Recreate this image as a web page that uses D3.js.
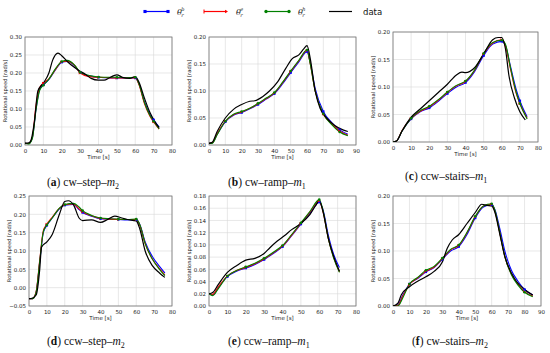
<!DOCTYPE html>
<html><head><meta charset="utf-8">
<script src="https://cdn.jsdelivr.net/npm/d3@7"></script>
<style>body{margin:0;background:#fff}svg{display:block}</style>
</head><body>
<svg id="chart" width="550" height="353"></svg>
<script>
// ---------- DATA ----------
const seriesNames = ["θ_r^b", "θ_r^e", "θ_r^h", "data"];
const captions = [["a","cw–step–","2"],["b","cw–ramp–","1"],["c","ccw–stairs–","1"],
                  ["d","ccw–step–","2"],["e","ccw–ramp–","1"],["f","cw–stairs–","2"]];

// (a) cw-step-m2
const a_simT  = [0,2,4,6,8,10,13,17,20,23,27,30,35,40,45,50,55,60,62,65,68,70,73];
const a_blue  = [0.005,0.004,0.02,0.1,0.155,0.167,0.182,0.212,0.23,0.232,0.22,0.201,0.192,0.188,0.187,0.186,0.186,0.186,0.17,0.12,0.085,0.07,0.05];
const a_red   = [0.005,0.004,0.022,0.11,0.16,0.172,0.184,0.213,0.231,0.233,0.221,0.2,0.19,0.188,0.187,0.186,0.186,0.187,0.168,0.115,0.08,0.064,0.044];
const a_green = [0.005,0.003,0.018,0.098,0.152,0.166,0.183,0.215,0.232,0.235,0.222,0.202,0.193,0.189,0.188,0.188,0.187,0.188,0.17,0.118,0.082,0.066,0.045];
const a_dataT = [0,2,3,5,7,10,13,15,17,18,20,23,27,30,33,36,40,43,46,48,50,53,57,60,62,65,68,71,73];
const a_black = [0.005,0.006,0.01,0.06,0.15,0.172,0.2,0.235,0.253,0.255,0.248,0.232,0.215,0.205,0.196,0.185,0.18,0.18,0.187,0.192,0.195,0.188,0.185,0.19,0.175,0.13,0.09,0.062,0.048];

// (b) cw-ramp-m1
const b_simT  = [0,2,5,10,15,20,25,30,35,40,45,50,55,60,62,65,70,75,80,85];
const b_blue  = [0.003,0.004,0.02,0.043,0.055,0.06,0.067,0.075,0.085,0.095,0.113,0.134,0.154,0.173,0.152,0.105,0.062,0.042,0.028,0.02];
const b_red   = [0.003,0.004,0.021,0.044,0.056,0.061,0.068,0.076,0.086,0.096,0.115,0.136,0.156,0.175,0.15,0.1,0.057,0.04,0.026,0.018];
const b_green = [0.003,0.003,0.019,0.044,0.057,0.062,0.068,0.077,0.087,0.097,0.116,0.137,0.157,0.176,0.15,0.1,0.058,0.038,0.024,0.017];
const b_dataT = [0,2,5,10,15,20,25,28,33,37,42,47,51,55,58,60,62,65,68,72,77,82,85];
const b_black = [0.003,0.005,0.025,0.05,0.066,0.075,0.081,0.082,0.09,0.1,0.117,0.142,0.16,0.167,0.178,0.184,0.16,0.1,0.068,0.05,0.036,0.028,0.025];

// (c) ccw-stairs-m1
const c_simT  = [0,2,5,10,15,20,25,30,35,40,45,50,55,60,62,65,68,70,74];
const c_blue  = [0,0.002,0.02,0.042,0.055,0.062,0.074,0.088,0.1,0.108,0.128,0.157,0.178,0.183,0.176,0.135,0.095,0.075,0.046];
const c_red   = [0,0.002,0.021,0.043,0.056,0.064,0.076,0.09,0.102,0.11,0.13,0.16,0.18,0.186,0.175,0.13,0.088,0.07,0.043];
const c_green = [0,0.002,0.02,0.043,0.057,0.065,0.077,0.091,0.103,0.111,0.131,0.161,0.181,0.185,0.178,0.132,0.09,0.07,0.042];
const c_dataT = [0,2,5,10,15,20,25,30,35,38,40,45,50,55,58,60,62,64,67,70,73];
const c_black = [0,0.002,0.02,0.045,0.06,0.075,0.09,0.105,0.122,0.127,0.126,0.135,0.16,0.186,0.19,0.19,0.17,0.12,0.08,0.055,0.04];

// (d) ccw-step-m2
const d_simT  = [0,2,4,6,8,10,13,17,20,25,28,30,35,40,45,50,55,60,62,65,69,73,76];
const d_blue  = [-0.03,-0.03,-0.012,0.07,0.15,0.17,0.19,0.215,0.225,0.227,0.213,0.205,0.195,0.188,0.187,0.186,0.185,0.185,0.172,0.125,0.085,0.058,0.04];
const d_red   = [-0.03,-0.03,-0.01,0.075,0.155,0.173,0.192,0.216,0.226,0.228,0.215,0.207,0.196,0.189,0.187,0.186,0.186,0.186,0.17,0.12,0.078,0.052,0.035];
const d_green = [-0.03,-0.03,-0.012,0.072,0.152,0.171,0.19,0.217,0.227,0.23,0.22,0.21,0.197,0.19,0.188,0.187,0.186,0.187,0.172,0.12,0.078,0.05,0.033];
const d_dataT = [0,2,4,6,7,10,13,17,20,22,25,28,30,35,40,44,48,52,55,60,62,65,69,73,76];
const d_black = [-0.03,-0.028,-0.02,0.05,0.11,0.125,0.145,0.2,0.235,0.237,0.225,0.19,0.183,0.185,0.178,0.186,0.195,0.19,0.186,0.182,0.16,0.1,0.06,0.04,0.028];

// (e) ccw-ramp-m1
const e_simT  = [0,2,5,10,15,20,25,30,35,40,45,50,55,60,62,65,68,71];
const e_blue  = [0.02,0.018,0.03,0.048,0.057,0.062,0.068,0.076,0.086,0.097,0.115,0.134,0.152,0.17,0.158,0.115,0.083,0.063];
const e_red   = [0.02,0.019,0.031,0.049,0.058,0.063,0.069,0.077,0.087,0.098,0.116,0.135,0.154,0.172,0.155,0.11,0.078,0.056];
const e_green = [0.02,0.017,0.028,0.049,0.058,0.064,0.07,0.078,0.088,0.099,0.117,0.136,0.155,0.174,0.157,0.11,0.077,0.055];
const e_dataT = [0,2,5,10,15,20,25,30,33,37,41,45,50,55,58,60,62,65,68,71];
const e_black = [0.02,0.022,0.035,0.055,0.066,0.075,0.078,0.086,0.095,0.106,0.115,0.125,0.135,0.15,0.164,0.172,0.155,0.11,0.08,0.057];

// (f) cw-stairs-m2
const f_simT  = [0,3,6,10,15,20,25,30,35,40,45,50,55,60,62,65,68,72,76,80,85];
const f_blue  = [0,0.002,0.02,0.04,0.05,0.062,0.07,0.085,0.1,0.108,0.13,0.16,0.18,0.184,0.175,0.14,0.1,0.065,0.045,0.03,0.02];
const f_red   = [0,0.001,0.018,0.039,0.051,0.063,0.071,0.086,0.102,0.11,0.133,0.162,0.182,0.185,0.172,0.132,0.09,0.058,0.04,0.026,0.018];
const f_green = [0,0.0,0.015,0.04,0.052,0.065,0.072,0.087,0.103,0.111,0.134,0.163,0.182,0.186,0.174,0.133,0.09,0.057,0.038,0.025,0.017];
const f_dataT = [0,3,5,10,15,20,25,30,33,36,40,45,50,54,57,60,62,65,68,72,75,80,85];
const f_black = [0,0.005,0.02,0.035,0.045,0.053,0.063,0.08,0.105,0.12,0.13,0.15,0.17,0.185,0.183,0.182,0.17,0.13,0.09,0.06,0.045,0.03,0.02];

// axis domains
const xMax  = [80, 90, 80, 80, 80, 90];
const yMin  = [0, 0, 0, -0.05, 0, 0];
const yMax  = [0.30, 0.20, 0.20, 0.25, 0.18, 0.20];
const yStep = [0.05, 0.05, 0.05, 0.05, 0.02, 0.05];

// ---------- LAYOUT ----------
const svg = d3.select("#chart");
const boxes = [
  {x0:25, x1:172, y0:37, y1:145, cap:[47,186]},
  {x0:209, x1:356, y0:37, y1:145, cap:[228,186]},
  {x0:393, x1:538, y0:32, y1:142, cap:[405,180]},
  {x0:29, x1:172, y0:196, y1:306, cap:[47,345]},
  {x0:209, x1:356, y0:196, y1:306, cap:[228,345]},
  {x0:393, x1:541, y0:196, y1:306, cap:[412,345]}
];
const panels = [
  [a_simT,a_blue,a_red,a_green,a_dataT,a_black],
  [b_simT,b_blue,b_red,b_green,b_dataT,b_black],
  [c_simT,c_blue,c_red,c_green,c_dataT,c_black],
  [d_simT,d_blue,d_red,d_green,d_dataT,d_black],
  [e_simT,e_blue,e_red,e_green,e_dataT,e_black],
  [f_simT,f_blue,f_red,f_green,f_dataT,f_black]
];
const COL = {b:"#0000ff", e:"#ff0000", h:"#008000", d:"#000000"};
const tickFont = "DejaVu Sans";

function marker(g, type, x, y, color, s){
  s = s || 1;
  if(type==="b") g.append("rect").attr("x",x-1.2*s).attr("y",y-1.2*s).attr("width",2.4*s).attr("height",2.4*s).attr("fill",color);
  else if(type==="h") g.append("circle").attr("cx",x).attr("cy",y).attr("r",1.3*s).attr("fill",color);
  else g.append("path").attr("d",`M${x-1.4*s},${y-1.4*s}L${x+1.4*s},${y}L${x-1.4*s},${y+1.4*s}Z`).attr("fill",color);
}

panels.forEach((p, i) => {
  const bx = boxes[i];
  const [simT, blue, red, green, dataT, black] = p;
  const x = d3.scaleLinear().domain([0, xMax[i]]).range([bx.x0, bx.x1]);
  const y = d3.scaleLinear().domain([yMin[i], yMax[i]]).range([bx.y1, bx.y0]);
  const g = svg.append("g");
  const xt = d3.range(0, xMax[i] + 0.001, 10);
  const yt = d3.range(yMin[i], yMax[i] + 1e-9, yStep[i]);
  // grid
  g.append("g").selectAll("line").data(xt).join("line")
    .attr("x1", d => x(d)).attr("x2", d => x(d)).attr("y1", bx.y0).attr("y2", bx.y1)
    .attr("stroke", "#d8d8d8").attr("stroke-width", 0.6);
  g.append("g").selectAll("line").data(yt).join("line")
    .attr("y1", d => y(d)).attr("y2", d => y(d)).attr("x1", bx.x0).attr("x2", bx.x1)
    .attr("stroke", "#d8d8d8").attr("stroke-width", 0.6);
  // axes
  const xa = g.append("g").attr("transform", `translate(0,${bx.y1})`)
    .call(d3.axisBottom(x).tickValues(xt).tickFormat(d3.format("d")).tickSize(0).tickPadding(4));
  const ya = g.append("g").attr("transform", `translate(${bx.x0},0)`)
    .call(d3.axisLeft(y).tickValues(yt).tickFormat(d3.format(".2f")).tickSize(0).tickPadding(3));
  [xa, ya].forEach(a => {
    a.select(".domain").remove();
    a.selectAll("text").attr("font-family", tickFont).attr("font-size", 5.5).attr("fill", "#222");
  });
  // frame
  g.append("rect").attr("x", bx.x0).attr("y", bx.y0).attr("width", bx.x1 - bx.x0).attr("height", bx.y1 - bx.y0)
    .attr("fill", "none").attr("stroke", "#777").attr("stroke-width", 0.8);
  // labels
  g.append("text").attr("x", (bx.x0 + bx.x1) / 2).attr("y", bx.y1 + 14).attr("text-anchor", "middle")
    .attr("font-family", tickFont).attr("font-size", 5.5).attr("fill", "#222").text("Time [s]");
  g.append("text").attr("transform", `translate(${bx.x0 - 18},${(bx.y0 + bx.y1) / 2}) rotate(-90)`)
    .attr("text-anchor", "middle").attr("font-family", tickFont).attr("font-size", 5.2).attr("fill", "#222")
    .text("Rotational speed [rad/s]");
  // lines
  const clip = "clip" + i;
  svg.append("clipPath").attr("id", clip).append("rect")
    .attr("x", bx.x0).attr("y", bx.y0 - 2).attr("width", bx.x1 - bx.x0).attr("height", bx.y1 - bx.y0 + 2);
  const lg = g.append("g").attr("clip-path", `url(#${clip})`);
  const line = d3.line().x(d => x(d[0])).y(d => y(d[1])).curve(d3.curveMonotoneX);
  const sims = [["b", blue], ["e", red], ["h", green]];
  sims.forEach(([k, vals]) => {
    const pts = simT.map((t, j) => [t, vals[j]]);
    lg.append("path").attr("d", line(pts)).attr("fill", "none").attr("stroke", COL[k]).attr("stroke-width", 1.1);
  });
  lg.append("path").attr("d", line(dataT.map((t, j) => [t, black[j]])))
    .attr("fill", "none").attr("stroke", "#000").attr("stroke-width", 1.2);
  sims.forEach(([k, vals]) => {
    simT.forEach((t, j) => { if (t > 0 && t % 10 === 0) marker(lg, k, x(t), y(vals[j]), COL[k]); });
  });
  // caption
  const c = captions[i];
  const ct = svg.append("text").attr("x", bx.cap[0]).attr("y", bx.cap[1])
    .attr("font-family", "Liberation Serif, DejaVu Serif, serif").attr("font-size", 11.5).attr("fill", "#111");
  ct.append("tspan").text("(");
  ct.append("tspan").attr("font-weight", "bold").text(c[0]);
  ct.append("tspan").text(") " + c[1]);
  ct.append("tspan").attr("font-style", "italic").text("m");
  ct.append("tspan").attr("font-size", 8).attr("dy", 2.5).text(c[2]);
});

// ---------- LEGEND ----------
const leg = [
  {k:"b", x:145, sup:"b"}, {k:"e", x:204, sup:"e"}, {k:"h", x:266, sup:"h"}, {k:"d", x:329, sup:null}
];
leg.forEach((L, i) => {
  const g = svg.append("g");
  g.append("line").attr("x1", L.x).attr("x2", L.x + 23).attr("y1", 11.5).attr("y2", 11.5)
    .attr("stroke", COL[L.k]).attr("stroke-width", 1.2);
  if (L.k !== "d") {
    if (L.k === "e") {
      g.append("line").attr("x1", L.x).attr("x2", L.x).attr("y1", 9.5).attr("y2", 13.5).attr("stroke", COL.e).attr("stroke-width", 1);
      g.append("path").attr("d", `M${L.x+21},${9.8}L${L.x+24},${11.5}L${L.x+21},${13.2}Z`).attr("fill", COL.e);
    } else {
      marker(g, L.k, L.x, 11.5, COL[L.k], 1.3);
      marker(g, L.k, L.x + 23, 11.5, COL[L.k], 1.3);
    }
    const t = g.append("text").attr("x", L.x + 32).attr("y", 15).attr("font-family", "DejaVu Serif, serif")
      .attr("font-style", "italic").attr("font-size", 8).attr("fill", "#222");
    t.append("tspan").text("θ");
    t.append("tspan").attr("font-size", 5).attr("dx", -0.5).attr("dy", 2).text("r");
    t.append("tspan").attr("font-size", 5).attr("dx", -2.5).attr("dy", -6.5).text(L.sup);
  } else {
    g.append("text").attr("x", L.x + 34).attr("y", 15).attr("font-family", "DejaVu Sans, sans-serif")
      .attr("font-size", 8.5).attr("fill", "#111").text("data");
  }
});
</script>
</body></html>
